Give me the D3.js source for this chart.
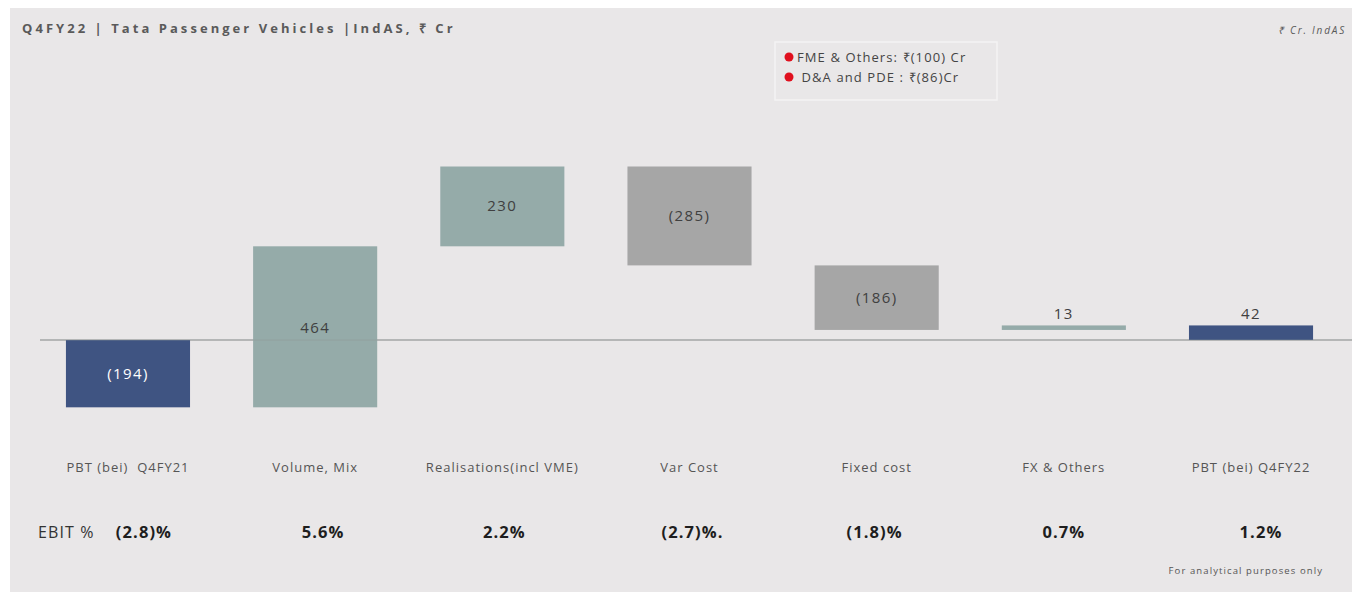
<!DOCTYPE html>
<html>
<head>
<meta charset="utf-8">
<script src="https://cdn.jsdelivr.net/npm/d3@7"></script>
<style>
  html, body { margin: 0; padding: 0; background: #ffffff; }
  svg { display: block; }
</style>
</head>
<body>
<svg id="chart" width="1362" height="598"></svg>
<script>
// Bridge categories, left to right
const categories = ["PBT (bei)  Q4FY21", "Volume, Mix", "Realisations(incl VME)", "Var Cost", "Fixed cost", "FX & Others", "PBT (bei) Q4FY22"];
// Change contributed by each step (₹ Cr); first and last are totals
const values = [-194, 464, 230, -285, -186, 13, 42];
const isTotal = [true, false, false, false, false, false, true];
const valueLabels = ["(194)", "464", "230", "(285)", "(186)", "13", "42"];
// EBIT margin row
const ebitLabels = ["(2.8)%", "5.6%", "2.2%", "(2.7)%.", "(1.8)%", "0.7%", "1.2%"];
// Callout notes
const notes = ["FME & Others: ₹(100) Cr", " D&A and PDE : ₹(86)Cr"];

const svg = d3.select("#chart");
const FONT = "Open Sans, sans-serif";

// panel background
svg.append("rect").attr("x", 10).attr("y", 8).attr("width", 1342).attr("height", 584).attr("fill", "#e9e7e8");

// waterfall steps
let running = 0;
const steps = values.map((v, i) => {
  let start, end;
  if (isTotal[i]) { start = 0; end = v; running = v; }
  else { start = running; end = running + v; running = end; }
  return { cat: categories[i], v, start, end, total: isTotal[i], label: valueLabels[i], ebit: ebitLabels[i] };
});

const x = d3.scaleBand().domain(categories).range([34.4, 1344.6]).paddingInner(0.337).paddingOuter(0.1685);
const y = d3.scaleLinear().domain([-200, 600]).range([409.4, 131.8]);

const color = d => d.total ? "#3f5482" : (d.v >= 0 ? "#95aba9" : "#a6a6a6");

// zero line
svg.append("line").attr("x1", 40).attr("x2", 1352).attr("y1", y(0)).attr("y2", y(0))
  .attr("stroke", "#9c9c9c").attr("stroke-width", 1.2);

const g = svg.append("g");
g.selectAll("rect.bar").data(steps).join("rect").attr("class", "bar")
  .attr("x", d => x(d.cat))
  .attr("width", x.bandwidth())
  .attr("y", d => y(Math.max(d.start, d.end)))
  .attr("height", d => Math.max(3, Math.abs(y(d.start) - y(d.end))))
  .attr("fill", color);

// zero line shows faintly through the bars it crosses
svg.append("line").attr("x1", 40).attr("x2", 1352).attr("y1", y(0)).attr("y2", y(0))
  .attr("stroke", "#8f9896").attr("stroke-width", 1).attr("opacity", 0.5);

// value labels
g.selectAll("text.val").data(steps).join("text").attr("class", "val")
  .attr("x", d => x(d.cat) + x.bandwidth() / 2)
  .attr("y", d => {
    const hgt = Math.abs(y(d.start) - y(d.end));
    if (hgt < 30) return y(Math.max(d.start, d.end)) - 6;
    if (d.cat === "Volume, Mix") return y(0) - 7;
    return (y(d.start) + y(d.end)) / 2 + 5;
  })
  .attr("text-anchor", "middle")
  .attr("font-family", FONT)
  .attr("font-size", 15)
  .attr("letter-spacing", 1.4)
  .attr("fill", d => d.total && d.v < 0 ? "#ffffff" : "#404040")
  .text(d => d.label);

// category labels
g.selectAll("text.cat").data(steps).join("text").attr("class", "cat")
  .attr("x", d => x(d.cat) + x.bandwidth() / 2)
  .attr("y", 472)
  .attr("text-anchor", "middle")
  .attr("font-family", FONT)
  .attr("font-size", 13)
  .attr("letter-spacing", 1.0)
  .attr("fill", "#555555")
  .style("white-space", "pre")
  .text(d => d.cat);

// EBIT row
svg.append("text").attr("x", 38).attr("y", 538)
  .attr("font-family", FONT).attr("font-size", 16).attr("letter-spacing", 1.1).attr("fill", "#333")
  .text("EBIT %");
const ebitOffsets = [16, 8, 2, 3, -2, 0, 10];
g.selectAll("text.ebit").data(steps).join("text").attr("class", "ebit")
  .attr("x", (d, i) => x(d.cat) + x.bandwidth() / 2 + ebitOffsets[i])
  .attr("y", 538)
  .attr("text-anchor", "middle")
  .attr("font-family", FONT)
  .attr("font-size", 16.5)
  .attr("letter-spacing", 1.1)
  .attr("font-weight", "bold")
  .attr("fill", "#1e1e1e")
  .text(d => d.ebit);

// title
svg.append("text").attr("x", 22).attr("y", 33)
  .attr("font-family", FONT).attr("font-size", 13).attr("font-weight", "bold")
  .attr("fill", "#5a5a5a").attr("letter-spacing", 3.05)
  .text("Q4FY22 | Tata Passenger Vehicles |IndAS, ₹ Cr");

svg.append("text").attr("x", 1346).attr("y", 34).attr("text-anchor", "end")
  .attr("font-family", FONT).attr("font-size", 10).attr("font-style", "italic")
  .attr("letter-spacing", 1.8)
  .attr("fill", "#5a5a5a").text("₹ Cr. IndAS");

// callout box
svg.append("rect").attr("x", 775).attr("y", 42).attr("width", 222).attr("height", 58)
  .attr("fill", "none").attr("stroke", "#f4f3f3").attr("stroke-width", 1.5);
notes.forEach((t, i) => {
  svg.append("circle").attr("cx", 789).attr("cy", 57 + i * 20).attr("r", 4.5).attr("fill", "#e0101e");
  svg.append("text").attr("x", 797).attr("y", 62 + i * 20)
    .attr("font-family", FONT).attr("font-size", 13).attr("letter-spacing", 1.1).attr("fill", "#444")
    .style("white-space", "pre").text(t);
});

svg.append("text").attr("x", 1323).attr("y", 574).attr("text-anchor", "end")
  .attr("font-family", FONT).attr("font-size", 9.5).attr("letter-spacing", 1.1).attr("fill", "#555")
  .text("For analytical purposes only");
</script>
</body>
</html>
